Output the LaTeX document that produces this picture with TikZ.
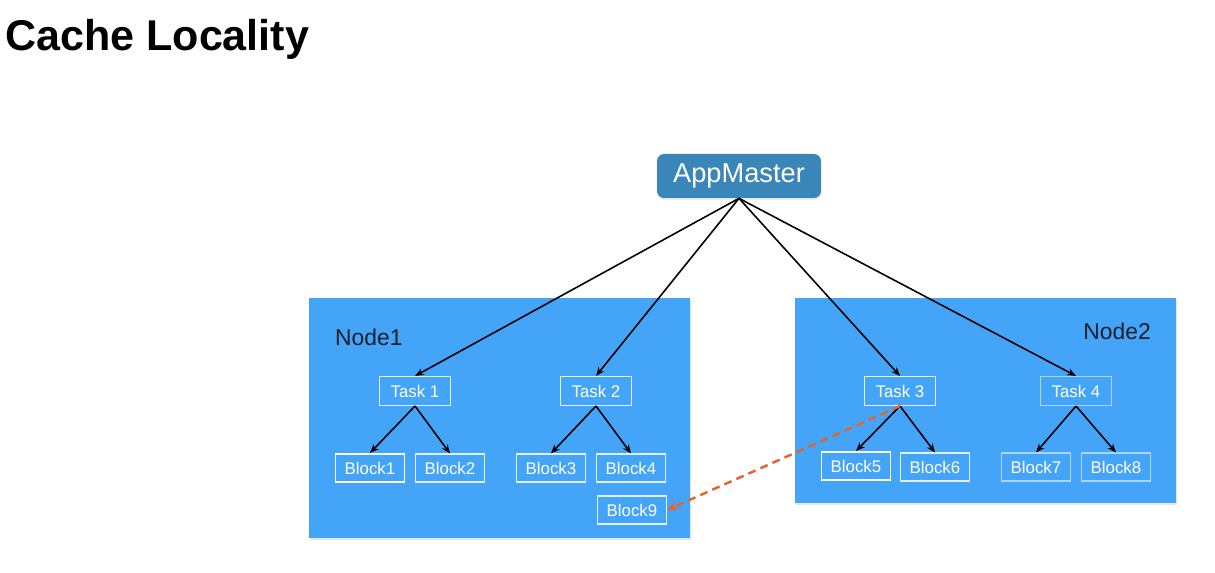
\documentclass[tikz,border=0pt]{standalone}
\usepackage{fontspec}
\setmainfont{Liberation Sans}
\usepackage{tikz}
\usetikzlibrary{arrows.meta,positioning,shadows}
\definecolor{appblue}{HTML}{3A86B9}
\definecolor{hostblue}{HTML}{44A4F7}
\definecolor{cacheorange}{HTML}{E8622C}
\definecolor{labeldark}{HTML}{1B1E2B}

\begin{document}
\begin{tikzpicture}[x=0.02cm,y=-0.02cm,
  host/.style={fill=hostblue,draw=none,minimum width=7.62cm,inner sep=0,
    drop shadow={opacity=0.2,shadow xshift=0.4pt,shadow yshift=-1.2pt}},
  master/.style={fill=appblue,draw=none,rounded corners=4pt,text=white,
    minimum width=3.28cm,minimum height=0.88cm,inner sep=0,
    font=\fontsize{15.5}{18}\selectfont,
    drop shadow={opacity=0.2,shadow xshift=0.3pt,shadow yshift=-1pt}},
  task/.style={draw=white!85!hostblue,line width=0.6pt,text=white,
    minimum width=1.42cm,minimum height=0.58cm,inner sep=0,
    font=\fontsize{9.6}{11}\selectfont},
  block/.style={task,minimum width=1.38cm,minimum height=0.56cm},
  faint/.style={draw=white!55!hostblue},
  strong/.style={line width=1.1pt,draw=white},
  link/.style={-{Stealth[length=5pt,width=4pt]},line width=0.9pt,black},
  fetch/.style={-{Stealth[length=6pt,width=5pt]},cacheorange,line width=1.4pt,
    dash pattern=on 4.5pt off 3pt}]
  \useasboundingbox (0,0) rectangle (1215,573);

  % title
  \node[anchor=west,inner sep=0,font=\fontsize{24.5}{28}\selectfont\bfseries] (title) at (5,39) {Cache Locality};

  % the two machines
  \node[host,minimum height=4.8cm] (node1) at (499.5,418) {};
  \node[host,minimum height=4.1cm] (node2) at (985.5,400.5) {};
  \node[anchor=west,text=labeldark,font=\fontsize{13}{15}\selectfont] (name1) at (329,337) {Node1};
  \node[anchor=east,text=labeldark,font=\fontsize{13}{15}\selectfont] (name2) at (1157,331) {Node2};

  \node[master] (am) at (739,176) {AppMaster};

  % tasks
  \node[task] (t1) at (415,391) {Task 1};
  \node[task] (t2) at (596,391) {Task 2};
  \node[task] (t3) at (900,391) {Task 3};
  \node[task,faint] (t4) at (1076,391) {Task 4};

  % blocks
  \node[block,strong] (b1) at (370,468) {Block1};
  \node[block] (b2) at (450,468) {Block2};
  \node[block] (b3) at (551,468) {Block3};
  \node[block] (b4) at (631,468) {Block4};
  \node[block] (b9) at (632,510) {Block9};
  \node[block,strong] (b5) at (856,466) {Block5};
  \node[block] (b6) at (935,467) {Block6};
  \node[block,faint] (b7) at (1036,467) {Block7};
  \node[block,faint] (b8) at (1116,467) {Block8};

  \foreach \t in {t1,t2,t3,t4}
    \draw[link] (am.south) -- (\t.north);
  \foreach \t/\a/\b in {t1/b1/b2,t2/b3/b4,t3/b5/b6,t4/b7/b8}{
    \draw[link] (\t.south) -- (\a.north);
    \draw[link] (\t.south) -- (\b.north);
  }

  \draw[fetch] (t3.south) -- (b9.east);
\end{tikzpicture}
\end{document}
